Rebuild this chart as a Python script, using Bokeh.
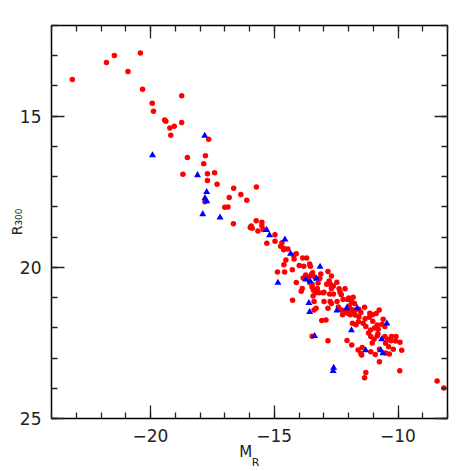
from bokeh.plotting import figure
from bokeh.models import Range1d, FixedTicker, LinearAxis
from bokeh.embed import file_html
from bokeh.resources import INLINE

# ---- data ----
red_x = [-23.16, -21.78, -21.46, -20.41, -20.91, -20.32, -18.74, -19.93, -19.88, -19.43,
         -19.38, -19.22, -19.04, -18.74, -19.18, -17.65, -18.51, -17.78, -17.85, -18.69,
         -17.70, -17.41, -17.70, -17.31, -16.64, -15.72, -16.35, -16.82, -16.11, -17.00,
         -16.87, -17.80,
         -16.65, -15.73, -15.50, -15.50, -15.93, -15.89, -15.97, -15.66, -15.45, -14.97,
         -15.30, -14.97, -14.69, -14.74, -14.62, -14.62, -14.45, -14.22, -14.11, -14.20,
         -14.53, -13.85, -13.69, -14.61, -13.99, -13.81, -13.57, -13.54, -14.27, -14.87,
         -14.58, -13.73, -13.49, -13.45, -12.83, -13.12, -13.83, -13.61, -13.46, -13.35,
         -13.16, -12.69, -14.11, -13.57, -13.47, -13.23, -12.78, -12.47, -12.88, -12.72,
         -13.87, -13.91, -13.47, -13.42, -13.26, -12.99, -12.69, -12.61, -12.38, -12.14,
         -13.34, -13.19, -13.02, -12.76, -12.61, -12.34, -12.29, -14.26, -13.39, -13.43,
         -12.99, -12.74, -12.69, -12.46, -12.22, -12.04, -11.99, -11.81, -11.87, -11.76,
         -13.39, -13.31, -12.83, -12.41, -12.29, -12.14, -11.97, -11.95, -11.85, -11.73,
         -11.58, -11.50, -11.35, -12.24, -12.04, -11.93, -11.84, -11.73, -11.58, -11.14,
         -11.03, -10.88, -10.76, -13.08, -12.91, -11.84, -11.70, -11.60, -11.33, -11.16,
         -11.41, -11.30, -11.02, -10.84, -11.11, -10.95, -10.80, -10.81, -10.84, -10.60,
         -10.65, -10.53, -11.19, -11.10, -10.97, -11.04, -10.53, -10.42, -10.26, -10.08,
         -10.28, -10.10, -9.92, -10.50, -10.38, -10.19, -9.85, -13.47, -12.83, -12.06,
         -11.87, -11.61, -11.47, -11.50, -11.45, -11.10, -10.92, -10.75, -10.75, -10.35,
         -10.50, -11.30, -11.35, -9.93, -8.42, -8.15]
red_y = [13.79, 13.22, 12.99, 12.91, 13.52, 14.11, 14.32, 14.57, 14.84, 15.13,
         15.17, 15.39, 15.33, 15.21, 15.63, 15.76, 16.37, 16.31, 16.57, 16.92,
         16.90, 16.87, 17.13, 17.25, 17.38, 17.34, 17.59, 17.69, 17.78, 18.01,
         18.00, 17.83,
         18.56, 18.46, 18.51, 18.62, 18.63, 18.71, 18.68, 18.80, 18.75, 18.92,
         19.20, 19.14, 19.19, 19.30, 19.37, 19.42, 19.39, 19.60, 19.55, 19.72,
         19.76, 19.69, 19.69, 19.91, 19.94, 19.96, 19.89, 19.96, 20.08, 20.15,
         20.15, 20.25, 20.23, 20.18, 20.14, 20.22, 20.35, 20.33, 20.27, 20.33,
         20.37, 20.29, 20.50, 20.50, 20.57, 20.52, 20.45, 20.49, 20.56, 20.57,
         20.70, 20.79, 20.65, 20.75, 20.70, 20.82, 20.70, 20.62, 20.71, 20.71,
         20.84, 20.84, 20.84, 20.88, 20.88, 20.82, 20.91, 21.09, 21.13, 20.95,
         21.13, 21.13, 21.20, 21.13, 21.06, 21.06, 21.01, 20.99, 21.14, 21.20,
         21.41, 21.35, 21.35, 21.31, 21.41, 21.43, 21.27, 21.37, 21.40, 21.42,
         21.39, 21.49, 21.32, 21.57, 21.52, 21.57, 21.48, 21.58, 21.64, 21.52,
         21.57, 21.53, 21.41, 21.76, 21.74, 21.85, 21.90, 21.80, 21.70, 21.65,
         21.85, 21.96, 21.78, 21.91, 22.07, 22.01, 22.04, 22.20, 22.27, 21.72,
         21.88, 21.96, 22.17, 22.29, 22.38, 22.50, 22.29, 22.38, 22.29, 22.29,
         22.43, 22.44, 22.48, 22.51, 22.63, 22.71, 22.74, 22.28, 22.43, 22.42,
         22.57, 22.73, 22.90, 22.85, 22.65, 22.79, 22.88, 22.71, 23.12, 22.87,
         22.83, 23.48, 23.65, 23.42, 23.76, 23.99]

blue_x = [-17.81, -19.92, -18.10, -17.73, -17.80, -17.73, -17.89, -17.19, -15.31, -15.19,
          -14.57, -14.34, -13.15, -14.85, -13.73, -13.55, -13.30, -13.60, -13.57, -12.47,
          -12.07, -11.65, -10.45, -11.88, -13.37, -10.66, -11.31, -10.70, -10.61, -12.60,
          -12.62]
blue_y = [15.65, 16.29, 16.95, 17.51, 17.71, 17.81, 18.24, 18.35, 18.76, 18.94,
          19.08, 19.55, 19.98, 20.51, 20.40, 20.46, 20.38, 21.18, 21.48, 21.43,
          21.35, 21.35, 21.86, 22.08, 22.27, 22.38, 22.74, 22.74, 22.84, 23.32,
          23.43]

x_ticks = [-20, -15, -10]
x_tick_labels = ["\u221220", "\u221215", "\u221210"]
x_minor = list(range(-24, -7))
y_ticks = [15, 20, 25]
y_tick_labels = ["15", "20", "25"]
y_minor = list(range(12, 26))
x_title_main, x_title_sub = "M", "R"
y_title = "R\u2083\u2080\u2080"

FONT = "DejaVu Sans"
INK = "#222222"

p = figure(width=471, height=471, output_backend="svg", toolbar_location=None,
           x_range=Range1d(-24, -8), y_range=Range1d(25, 12),
           x_axis_location=None, y_axis_location=None,
           min_border_left=51, min_border_right=24, min_border_top=25, min_border_bottom=51)
p.grid.visible = False
p.outline_line_color = "black"
p.outline_line_width = 1.5
p.background_fill_color = "white"
p.border_fill_color = "white"


def make_axis(ticks, minor, labels, show):
    ax = LinearAxis(ticker=FixedTicker(ticks=ticks, minor_ticks=minor))
    ax.axis_line_color = None
    ax.major_tick_in = 13
    ax.major_tick_out = 0
    ax.minor_tick_in = 6
    ax.minor_tick_out = 0
    ax.major_tick_line_color = INK
    ax.minor_tick_line_color = INK
    ax.major_tick_line_width = 1.3
    ax.minor_tick_line_width = 1.3
    if show:
        ax.major_label_overrides = {t: l for t, l in zip(ticks, labels)}
        ax.major_label_text_font = FONT
        ax.major_label_text_font_size = "17px"
        ax.major_label_text_color = INK
        ax.major_label_standoff = 10
    else:
        ax.major_label_text_font_size = "0px"
        ax.major_label_standoff = 0
    return ax


def text_axis(pos, text, size, standoff):
    # an axis with no lines that only carries one piece of title text
    ax = LinearAxis(ticker=FixedTicker(ticks=[pos], minor_ticks=[]))
    ax.axis_line_color = None
    ax.major_tick_line_color = None
    ax.minor_tick_line_color = None
    ax.major_tick_in = 0
    ax.major_tick_out = 0
    ax.minor_tick_in = 0
    ax.minor_tick_out = 0
    ax.major_label_overrides = {pos: text}
    ax.major_label_text_font = FONT
    ax.major_label_text_font_size = size
    ax.major_label_text_color = INK
    ax.major_label_standoff = standoff
    return ax


p.add_layout(make_axis(x_ticks, x_minor, x_tick_labels, True), "below")
p.add_layout(text_axis(-16.15, x_title_main, "15px", -2), "below")
p.add_layout(text_axis(-15.75, x_title_sub, "11px", -8), "below")
p.add_layout(make_axis(x_ticks, x_minor, x_tick_labels, False), "above")

yl = make_axis(y_ticks, y_minor, y_tick_labels, True)
yl.axis_label = y_title
yl.axis_label_text_font = FONT
yl.axis_label_text_font_size = "14px"
yl.axis_label_text_font_style = "normal"
yl.axis_label_text_color = INK
yl.axis_label_standoff = -8
p.add_layout(yl, "left")
p.add_layout(make_axis(y_ticks, y_minor, y_tick_labels, False), "right")

p.scatter(red_x, red_y, marker="circle", size=5.5, fill_color="#ff0000", line_color=None)
p.scatter(blue_x, blue_y, marker="triangle", size=7, fill_color="#0000ff", line_color=None)

open("out.html", "w").write(file_html(p, INLINE))
